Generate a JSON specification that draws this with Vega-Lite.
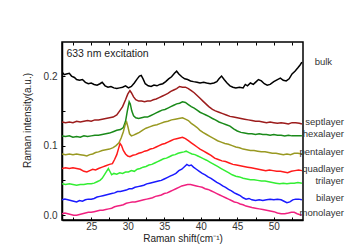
{
  "$schema": "https://vega.github.io/schema/vega-lite/v6.json",
  "width": 241,
  "height": 178,
  "autosize": "none",
  "padding": {"left": 62, "top": 42, "right": 56, "bottom": 29},
  "config": {
    "view": {"stroke": "#000", "strokeWidth": 1.5},
    "axis": {"domainColor": "#000", "domainWidth": 1.5, "tickColor": "#000", "tickWidth": 1, "grid": false,
      "labelColor": "#333", "labelFont": "Liberation Sans", "labelFontSize": 10,
      "titleFont": "Liberation Sans", "titleFontSize": 10, "titleFontWeight": "normal", "titleColor": "#222"},
    "text": {"font": "Liberation Sans"}
  },
  "data": {"values": [
    {"s":"bulk","x":21.0,"y":0.206},{"s":"bulk","x":21.3,"y":0.202},{"s":"bulk","x":21.6,"y":0.203},{"s":"bulk","x":22.0,"y":0.204},{"s":"bulk","x":22.3,"y":0.200},{"s":"bulk","x":22.7,"y":0.198},{"s":"bulk","x":23.0,"y":0.195},{"s":"bulk","x":23.4,"y":0.194},{"s":"bulk","x":23.8,"y":0.195},{"s":"bulk","x":24.2,"y":0.191},{"s":"bulk","x":24.6,"y":0.189},{"s":"bulk","x":25.0,"y":0.190},{"s":"bulk","x":25.4,"y":0.188},{"s":"bulk","x":25.8,"y":0.187},{"s":"bulk","x":26.2,"y":0.189},{"s":"bulk","x":26.5,"y":0.191},{"s":"bulk","x":26.9,"y":0.186},{"s":"bulk","x":27.3,"y":0.184},{"s":"bulk","x":27.7,"y":0.185},{"s":"bulk","x":28.1,"y":0.183},{"s":"bulk","x":28.5,"y":0.182},{"s":"bulk","x":28.9,"y":0.183},{"s":"bulk","x":29.3,"y":0.184},{"s":"bulk","x":29.7,"y":0.186},{"s":"bulk","x":30.1,"y":0.183},{"s":"bulk","x":30.5,"y":0.185},{"s":"bulk","x":30.9,"y":0.190},{"s":"bulk","x":31.3,"y":0.196},{"s":"bulk","x":31.6,"y":0.200},{"s":"bulk","x":31.85,"y":0.201},{"s":"bulk","x":32.1,"y":0.196},{"s":"bulk","x":32.4,"y":0.189},{"s":"bulk","x":32.8,"y":0.186},{"s":"bulk","x":33.2,"y":0.185},{"s":"bulk","x":33.6,"y":0.187},{"s":"bulk","x":34.0,"y":0.186},{"s":"bulk","x":34.4,"y":0.188},{"s":"bulk","x":34.8,"y":0.189},{"s":"bulk","x":35.2,"y":0.192},{"s":"bulk","x":35.6,"y":0.196},{"s":"bulk","x":36.0,"y":0.199},{"s":"bulk","x":36.4,"y":0.204},{"s":"bulk","x":36.7,"y":0.207},{"s":"bulk","x":37.0,"y":0.203},{"s":"bulk","x":37.4,"y":0.199},{"s":"bulk","x":37.8,"y":0.196},{"s":"bulk","x":38.2,"y":0.195},{"s":"bulk","x":38.6,"y":0.193},{"s":"bulk","x":39.0,"y":0.192},{"s":"bulk","x":39.5,"y":0.191},{"s":"bulk","x":39.9,"y":0.190},{"s":"bulk","x":40.4,"y":0.191},{"s":"bulk","x":40.8,"y":0.190},{"s":"bulk","x":41.3,"y":0.189},{"s":"bulk","x":41.8,"y":0.190},{"s":"bulk","x":42.2,"y":0.192},{"s":"bulk","x":42.5,"y":0.196},{"s":"bulk","x":42.85,"y":0.200},{"s":"bulk","x":43.2,"y":0.195},{"s":"bulk","x":43.6,"y":0.190},{"s":"bulk","x":44.0,"y":0.186},{"s":"bulk","x":44.4,"y":0.184},{"s":"bulk","x":44.8,"y":0.183},{"s":"bulk","x":45.3,"y":0.184},{"s":"bulk","x":45.8,"y":0.183},{"s":"bulk","x":46.1,"y":0.188},{"s":"bulk","x":46.4,"y":0.186},{"s":"bulk","x":46.8,"y":0.190},{"s":"bulk","x":47.2,"y":0.188},{"s":"bulk","x":47.6,"y":0.192},{"s":"bulk","x":47.9,"y":0.195},{"s":"bulk","x":48.3,"y":0.193},{"s":"bulk","x":48.7,"y":0.189},{"s":"bulk","x":49.1,"y":0.187},{"s":"bulk","x":49.5,"y":0.188},{"s":"bulk","x":50.0,"y":0.192},{"s":"bulk","x":50.5,"y":0.195},{"s":"bulk","x":50.9,"y":0.197},{"s":"bulk","x":51.3,"y":0.194},{"s":"bulk","x":51.7,"y":0.193},{"s":"bulk","x":52.1,"y":0.196},{"s":"bulk","x":52.5,"y":0.203},{"s":"bulk","x":52.9,"y":0.207},{"s":"bulk","x":53.3,"y":0.212},{"s":"bulk","x":53.6,"y":0.216},{"s":"bulk","x":53.85,"y":0.220},

    {"s":"septlayer","x":21.0,"y":0.134},{"s":"septlayer","x":21.5,"y":0.133},{"s":"septlayer","x":22.0,"y":0.134},{"s":"septlayer","x":22.5,"y":0.133},{"s":"septlayer","x":23.0,"y":0.135},{"s":"septlayer","x":23.5,"y":0.134},{"s":"septlayer","x":24.0,"y":0.135},{"s":"septlayer","x":24.5,"y":0.136},{"s":"septlayer","x":25.0,"y":0.135},{"s":"septlayer","x":25.5,"y":0.137},{"s":"septlayer","x":26.0,"y":0.137},{"s":"septlayer","x":26.5,"y":0.138},{"s":"septlayer","x":27.0,"y":0.139},{"s":"septlayer","x":27.5,"y":0.140},{"s":"septlayer","x":28.0,"y":0.141},{"s":"septlayer","x":28.5,"y":0.144},{"s":"septlayer","x":28.9,"y":0.150},{"s":"septlayer","x":29.3,"y":0.156},{"s":"septlayer","x":29.7,"y":0.166},{"s":"septlayer","x":30.0,"y":0.174},{"s":"septlayer","x":30.3,"y":0.179},{"s":"septlayer","x":30.5,"y":0.176},{"s":"septlayer","x":30.8,"y":0.170},{"s":"septlayer","x":31.1,"y":0.166},{"s":"septlayer","x":31.5,"y":0.164},{"s":"septlayer","x":31.9,"y":0.164},{"s":"septlayer","x":32.3,"y":0.163},{"s":"septlayer","x":32.7,"y":0.164},{"s":"septlayer","x":33.1,"y":0.164},{"s":"septlayer","x":33.5,"y":0.166},{"s":"septlayer","x":33.9,"y":0.167},{"s":"septlayer","x":34.3,"y":0.169},{"s":"septlayer","x":34.7,"y":0.171},{"s":"septlayer","x":35.1,"y":0.173},{"s":"septlayer","x":35.5,"y":0.175},{"s":"septlayer","x":35.9,"y":0.178},{"s":"septlayer","x":36.3,"y":0.180},{"s":"septlayer","x":36.7,"y":0.182},{"s":"septlayer","x":37.1,"y":0.185},{"s":"septlayer","x":37.5,"y":0.184},{"s":"septlayer","x":37.9,"y":0.184},{"s":"septlayer","x":38.3,"y":0.182},{"s":"septlayer","x":38.7,"y":0.179},{"s":"septlayer","x":39.1,"y":0.176},{"s":"septlayer","x":39.5,"y":0.172},{"s":"septlayer","x":39.9,"y":0.168},{"s":"septlayer","x":40.3,"y":0.164},{"s":"septlayer","x":40.7,"y":0.160},{"s":"septlayer","x":41.1,"y":0.156},{"s":"septlayer","x":41.6,"y":0.152},{"s":"septlayer","x":42.0,"y":0.150},{"s":"septlayer","x":42.5,"y":0.148},{"s":"septlayer","x":43.0,"y":0.146},{"s":"septlayer","x":43.5,"y":0.144},{"s":"septlayer","x":44.0,"y":0.142},{"s":"septlayer","x":44.5,"y":0.141},{"s":"septlayer","x":45.0,"y":0.140},{"s":"septlayer","x":45.5,"y":0.139},{"s":"septlayer","x":46.0,"y":0.138},{"s":"septlayer","x":46.5,"y":0.137},{"s":"septlayer","x":47.0,"y":0.136},{"s":"septlayer","x":47.5,"y":0.135},{"s":"septlayer","x":48.0,"y":0.135},{"s":"septlayer","x":48.5,"y":0.134},{"s":"septlayer","x":49.0,"y":0.133},{"s":"septlayer","x":49.5,"y":0.134},{"s":"septlayer","x":50.0,"y":0.133},{"s":"septlayer","x":50.5,"y":0.132},{"s":"septlayer","x":51.0,"y":0.133},{"s":"septlayer","x":51.5,"y":0.132},{"s":"septlayer","x":52.0,"y":0.131},{"s":"septlayer","x":52.5,"y":0.133},{"s":"septlayer","x":53.0,"y":0.133},{"s":"septlayer","x":53.5,"y":0.132},{"s":"septlayer","x":53.85,"y":0.131},

    {"s":"hexalayer","x":21.0,"y":0.114},{"s":"hexalayer","x":21.5,"y":0.113},{"s":"hexalayer","x":22.0,"y":0.114},{"s":"hexalayer","x":22.5,"y":0.112},{"s":"hexalayer","x":23.0,"y":0.113},{"s":"hexalayer","x":23.5,"y":0.112},{"s":"hexalayer","x":24.0,"y":0.114},{"s":"hexalayer","x":24.5,"y":0.113},{"s":"hexalayer","x":25.0,"y":0.114},{"s":"hexalayer","x":25.5,"y":0.115},{"s":"hexalayer","x":26.0,"y":0.115},{"s":"hexalayer","x":26.5,"y":0.116},{"s":"hexalayer","x":27.0,"y":0.117},{"s":"hexalayer","x":27.5,"y":0.118},{"s":"hexalayer","x":28.0,"y":0.120},{"s":"hexalayer","x":28.5,"y":0.122},{"s":"hexalayer","x":29.0,"y":0.123},{"s":"hexalayer","x":29.4,"y":0.126},{"s":"hexalayer","x":29.7,"y":0.135},{"s":"hexalayer","x":29.95,"y":0.150},{"s":"hexalayer","x":30.2,"y":0.163},{"s":"hexalayer","x":30.35,"y":0.160},{"s":"hexalayer","x":30.55,"y":0.150},{"s":"hexalayer","x":30.8,"y":0.143},{"s":"hexalayer","x":31.1,"y":0.140},{"s":"hexalayer","x":31.5,"y":0.139},{"s":"hexalayer","x":31.9,"y":0.140},{"s":"hexalayer","x":32.3,"y":0.141},{"s":"hexalayer","x":32.7,"y":0.141},{"s":"hexalayer","x":33.1,"y":0.143},{"s":"hexalayer","x":33.5,"y":0.145},{"s":"hexalayer","x":33.9,"y":0.147},{"s":"hexalayer","x":34.3,"y":0.149},{"s":"hexalayer","x":34.7,"y":0.151},{"s":"hexalayer","x":35.1,"y":0.152},{"s":"hexalayer","x":35.5,"y":0.154},{"s":"hexalayer","x":35.9,"y":0.156},{"s":"hexalayer","x":36.3,"y":0.158},{"s":"hexalayer","x":36.7,"y":0.160},{"s":"hexalayer","x":37.1,"y":0.161},{"s":"hexalayer","x":37.5,"y":0.163},{"s":"hexalayer","x":37.9,"y":0.162},{"s":"hexalayer","x":38.3,"y":0.159},{"s":"hexalayer","x":38.7,"y":0.156},{"s":"hexalayer","x":39.1,"y":0.154},{"s":"hexalayer","x":39.5,"y":0.151},{"s":"hexalayer","x":39.9,"y":0.148},{"s":"hexalayer","x":40.3,"y":0.146},{"s":"hexalayer","x":40.7,"y":0.144},{"s":"hexalayer","x":41.1,"y":0.142},{"s":"hexalayer","x":41.6,"y":0.139},{"s":"hexalayer","x":42.0,"y":0.137},{"s":"hexalayer","x":42.5,"y":0.134},{"s":"hexalayer","x":43.0,"y":0.132},{"s":"hexalayer","x":43.5,"y":0.130},{"s":"hexalayer","x":44.0,"y":0.128},{"s":"hexalayer","x":44.5,"y":0.124},{"s":"hexalayer","x":45.0,"y":0.121},{"s":"hexalayer","x":45.5,"y":0.119},{"s":"hexalayer","x":46.0,"y":0.118},{"s":"hexalayer","x":46.5,"y":0.117},{"s":"hexalayer","x":47.0,"y":0.117},{"s":"hexalayer","x":47.5,"y":0.116},{"s":"hexalayer","x":48.0,"y":0.117},{"s":"hexalayer","x":48.5,"y":0.116},{"s":"hexalayer","x":49.0,"y":0.116},{"s":"hexalayer","x":49.5,"y":0.115},{"s":"hexalayer","x":50.0,"y":0.116},{"s":"hexalayer","x":50.5,"y":0.115},{"s":"hexalayer","x":51.0,"y":0.115},{"s":"hexalayer","x":51.5,"y":0.114},{"s":"hexalayer","x":52.0,"y":0.115},{"s":"hexalayer","x":52.5,"y":0.114},{"s":"hexalayer","x":53.0,"y":0.114},{"s":"hexalayer","x":53.5,"y":0.114},{"s":"hexalayer","x":53.85,"y":0.114},

    {"s":"pentalayer","x":21.0,"y":0.088},{"s":"pentalayer","x":21.5,"y":0.087},{"s":"pentalayer","x":22.0,"y":0.088},{"s":"pentalayer","x":22.5,"y":0.087},{"s":"pentalayer","x":23.0,"y":0.088},{"s":"pentalayer","x":23.5,"y":0.087},{"s":"pentalayer","x":24.0,"y":0.086},{"s":"pentalayer","x":24.4,"y":0.085},{"s":"pentalayer","x":24.8,"y":0.087},{"s":"pentalayer","x":25.2,"y":0.088},{"s":"pentalayer","x":25.6,"y":0.090},{"s":"pentalayer","x":26.0,"y":0.091},{"s":"pentalayer","x":26.5,"y":0.093},{"s":"pentalayer","x":27.0,"y":0.094},{"s":"pentalayer","x":27.5,"y":0.095},{"s":"pentalayer","x":28.0,"y":0.097},{"s":"pentalayer","x":28.4,"y":0.100},{"s":"pentalayer","x":28.8,"y":0.104},{"s":"pentalayer","x":29.1,"y":0.111},{"s":"pentalayer","x":29.4,"y":0.120},{"s":"pentalayer","x":29.65,"y":0.130},{"s":"pentalayer","x":29.85,"y":0.134},{"s":"pentalayer","x":30.05,"y":0.126},{"s":"pentalayer","x":30.25,"y":0.117},{"s":"pentalayer","x":30.5,"y":0.114},{"s":"pentalayer","x":30.8,"y":0.115},{"s":"pentalayer","x":31.2,"y":0.117},{"s":"pentalayer","x":31.6,"y":0.119},{"s":"pentalayer","x":32.0,"y":0.122},{"s":"pentalayer","x":32.5,"y":0.125},{"s":"pentalayer","x":33.0,"y":0.127},{"s":"pentalayer","x":33.5,"y":0.129},{"s":"pentalayer","x":34.0,"y":0.130},{"s":"pentalayer","x":34.5,"y":0.132},{"s":"pentalayer","x":35.0,"y":0.134},{"s":"pentalayer","x":35.5,"y":0.135},{"s":"pentalayer","x":36.0,"y":0.137},{"s":"pentalayer","x":36.5,"y":0.138},{"s":"pentalayer","x":37.0,"y":0.139},{"s":"pentalayer","x":37.5,"y":0.140},{"s":"pentalayer","x":37.9,"y":0.138},{"s":"pentalayer","x":38.3,"y":0.136},{"s":"pentalayer","x":38.7,"y":0.132},{"s":"pentalayer","x":39.1,"y":0.129},{"s":"pentalayer","x":39.5,"y":0.126},{"s":"pentalayer","x":39.9,"y":0.122},{"s":"pentalayer","x":40.3,"y":0.119},{"s":"pentalayer","x":40.8,"y":0.116},{"s":"pentalayer","x":41.3,"y":0.113},{"s":"pentalayer","x":41.8,"y":0.110},{"s":"pentalayer","x":42.3,"y":0.107},{"s":"pentalayer","x":42.8,"y":0.105},{"s":"pentalayer","x":43.3,"y":0.103},{"s":"pentalayer","x":43.8,"y":0.102},{"s":"pentalayer","x":44.3,"y":0.100},{"s":"pentalayer","x":44.8,"y":0.098},{"s":"pentalayer","x":45.3,"y":0.097},{"s":"pentalayer","x":45.8,"y":0.095},{"s":"pentalayer","x":46.3,"y":0.094},{"s":"pentalayer","x":46.8,"y":0.093},{"s":"pentalayer","x":47.3,"y":0.093},{"s":"pentalayer","x":47.8,"y":0.092},{"s":"pentalayer","x":48.3,"y":0.091},{"s":"pentalayer","x":48.8,"y":0.091},{"s":"pentalayer","x":49.3,"y":0.090},{"s":"pentalayer","x":49.8,"y":0.089},{"s":"pentalayer","x":50.3,"y":0.089},{"s":"pentalayer","x":50.8,"y":0.088},{"s":"pentalayer","x":51.3,"y":0.087},{"s":"pentalayer","x":51.8,"y":0.088},{"s":"pentalayer","x":52.3,"y":0.087},{"s":"pentalayer","x":52.8,"y":0.089},{"s":"pentalayer","x":53.3,"y":0.089},{"s":"pentalayer","x":53.85,"y":0.088},

    {"s":"quadlayer","x":21.0,"y":0.067},{"s":"quadlayer","x":21.5,"y":0.068},{"s":"quadlayer","x":22.0,"y":0.067},{"s":"quadlayer","x":22.5,"y":0.068},{"s":"quadlayer","x":23.0,"y":0.067},{"s":"quadlayer","x":23.5,"y":0.066},{"s":"quadlayer","x":24.0,"y":0.063},{"s":"quadlayer","x":24.4,"y":0.062},{"s":"quadlayer","x":24.8,"y":0.064},{"s":"quadlayer","x":25.2,"y":0.066},{"s":"quadlayer","x":25.6,"y":0.065},{"s":"quadlayer","x":26.0,"y":0.067},{"s":"quadlayer","x":26.5,"y":0.069},{"s":"quadlayer","x":27.0,"y":0.071},{"s":"quadlayer","x":27.5,"y":0.073},{"s":"quadlayer","x":27.9,"y":0.074},{"s":"quadlayer","x":28.2,"y":0.080},{"s":"quadlayer","x":28.5,"y":0.087},{"s":"quadlayer","x":28.75,"y":0.096},{"s":"quadlayer","x":28.95,"y":0.103},{"s":"quadlayer","x":29.15,"y":0.100},{"s":"quadlayer","x":29.4,"y":0.093},{"s":"quadlayer","x":29.7,"y":0.088},{"s":"quadlayer","x":30.0,"y":0.085},{"s":"quadlayer","x":30.3,"y":0.084},{"s":"quadlayer","x":30.7,"y":0.086},{"s":"quadlayer","x":31.1,"y":0.087},{"s":"quadlayer","x":31.5,"y":0.089},{"s":"quadlayer","x":31.9,"y":0.090},{"s":"quadlayer","x":32.3,"y":0.092},{"s":"quadlayer","x":32.7,"y":0.093},{"s":"quadlayer","x":33.1,"y":0.095},{"s":"quadlayer","x":33.5,"y":0.096},{"s":"quadlayer","x":33.9,"y":0.098},{"s":"quadlayer","x":34.3,"y":0.100},{"s":"quadlayer","x":34.7,"y":0.102},{"s":"quadlayer","x":35.1,"y":0.103},{"s":"quadlayer","x":35.5,"y":0.105},{"s":"quadlayer","x":35.9,"y":0.107},{"s":"quadlayer","x":36.3,"y":0.109},{"s":"quadlayer","x":36.7,"y":0.110},{"s":"quadlayer","x":37.1,"y":0.111},{"s":"quadlayer","x":37.5,"y":0.112},{"s":"quadlayer","x":37.9,"y":0.110},{"s":"quadlayer","x":38.3,"y":0.107},{"s":"quadlayer","x":38.7,"y":0.104},{"s":"quadlayer","x":39.1,"y":0.101},{"s":"quadlayer","x":39.5,"y":0.098},{"s":"quadlayer","x":39.9,"y":0.095},{"s":"quadlayer","x":40.4,"y":0.092},{"s":"quadlayer","x":40.9,"y":0.089},{"s":"quadlayer","x":41.4,"y":0.086},{"s":"quadlayer","x":41.9,"y":0.082},{"s":"quadlayer","x":42.4,"y":0.080},{"s":"quadlayer","x":42.9,"y":0.078},{"s":"quadlayer","x":43.4,"y":0.077},{"s":"quadlayer","x":43.9,"y":0.075},{"s":"quadlayer","x":44.4,"y":0.073},{"s":"quadlayer","x":44.9,"y":0.072},{"s":"quadlayer","x":45.4,"y":0.071},{"s":"quadlayer","x":45.9,"y":0.070},{"s":"quadlayer","x":46.4,"y":0.069},{"s":"quadlayer","x":46.9,"y":0.068},{"s":"quadlayer","x":47.4,"y":0.067},{"s":"quadlayer","x":47.9,"y":0.066},{"s":"quadlayer","x":48.4,"y":0.065},{"s":"quadlayer","x":48.9,"y":0.064},{"s":"quadlayer","x":49.4,"y":0.065},{"s":"quadlayer","x":49.9,"y":0.064},{"s":"quadlayer","x":50.4,"y":0.063},{"s":"quadlayer","x":50.9,"y":0.063},{"s":"quadlayer","x":51.4,"y":0.062},{"s":"quadlayer","x":51.9,"y":0.061},{"s":"quadlayer","x":52.4,"y":0.063},{"s":"quadlayer","x":52.9,"y":0.064},{"s":"quadlayer","x":53.4,"y":0.065},{"s":"quadlayer","x":53.85,"y":0.064},

    {"s":"trilayer","x":21.0,"y":0.045},{"s":"trilayer","x":21.5,"y":0.044},{"s":"trilayer","x":22.0,"y":0.045},{"s":"trilayer","x":22.5,"y":0.044},{"s":"trilayer","x":23.0,"y":0.043},{"s":"trilayer","x":23.5,"y":0.044},{"s":"trilayer","x":24.0,"y":0.044},{"s":"trilayer","x":24.5,"y":0.045},{"s":"trilayer","x":25.0,"y":0.045},{"s":"trilayer","x":25.4,"y":0.046},{"s":"trilayer","x":25.8,"y":0.048},{"s":"trilayer","x":26.2,"y":0.050},{"s":"trilayer","x":26.5,"y":0.053},{"s":"trilayer","x":26.8,"y":0.058},{"s":"trilayer","x":27.1,"y":0.063},{"s":"trilayer","x":27.35,"y":0.067},{"s":"trilayer","x":27.6,"y":0.062},{"s":"trilayer","x":27.8,"y":0.058},{"s":"trilayer","x":28.1,"y":0.060},{"s":"trilayer","x":28.5,"y":0.059},{"s":"trilayer","x":28.9,"y":0.061},{"s":"trilayer","x":29.3,"y":0.060},{"s":"trilayer","x":29.7,"y":0.062},{"s":"trilayer","x":30.1,"y":0.062},{"s":"trilayer","x":30.5,"y":0.064},{"s":"trilayer","x":30.9,"y":0.063},{"s":"trilayer","x":31.3,"y":0.066},{"s":"trilayer","x":31.7,"y":0.067},{"s":"trilayer","x":32.1,"y":0.069},{"s":"trilayer","x":32.5,"y":0.070},{"s":"trilayer","x":32.9,"y":0.072},{"s":"trilayer","x":33.3,"y":0.073},{"s":"trilayer","x":33.7,"y":0.075},{"s":"trilayer","x":34.1,"y":0.077},{"s":"trilayer","x":34.5,"y":0.079},{"s":"trilayer","x":34.9,"y":0.081},{"s":"trilayer","x":35.3,"y":0.082},{"s":"trilayer","x":35.7,"y":0.084},{"s":"trilayer","x":36.1,"y":0.086},{"s":"trilayer","x":36.5,"y":0.087},{"s":"trilayer","x":36.9,"y":0.089},{"s":"trilayer","x":37.3,"y":0.090},{"s":"trilayer","x":37.7,"y":0.091},{"s":"trilayer","x":38.0,"y":0.092},{"s":"trilayer","x":38.4,"y":0.090},{"s":"trilayer","x":38.8,"y":0.088},{"s":"trilayer","x":39.2,"y":0.087},{"s":"trilayer","x":39.6,"y":0.085},{"s":"trilayer","x":40.0,"y":0.083},{"s":"trilayer","x":40.4,"y":0.081},{"s":"trilayer","x":40.8,"y":0.079},{"s":"trilayer","x":41.3,"y":0.076},{"s":"trilayer","x":41.8,"y":0.073},{"s":"trilayer","x":42.3,"y":0.070},{"s":"trilayer","x":42.8,"y":0.067},{"s":"trilayer","x":43.3,"y":0.064},{"s":"trilayer","x":43.8,"y":0.061},{"s":"trilayer","x":44.3,"y":0.058},{"s":"trilayer","x":44.8,"y":0.056},{"s":"trilayer","x":45.3,"y":0.055},{"s":"trilayer","x":45.8,"y":0.053},{"s":"trilayer","x":46.3,"y":0.052},{"s":"trilayer","x":46.8,"y":0.051},{"s":"trilayer","x":47.3,"y":0.051},{"s":"trilayer","x":47.8,"y":0.050},{"s":"trilayer","x":48.3,"y":0.049},{"s":"trilayer","x":48.8,"y":0.049},{"s":"trilayer","x":49.3,"y":0.048},{"s":"trilayer","x":49.8,"y":0.047},{"s":"trilayer","x":50.3,"y":0.046},{"s":"trilayer","x":50.8,"y":0.045},{"s":"trilayer","x":51.3,"y":0.046},{"s":"trilayer","x":51.8,"y":0.045},{"s":"trilayer","x":52.3,"y":0.046},{"s":"trilayer","x":52.8,"y":0.046},{"s":"trilayer","x":53.3,"y":0.047},{"s":"trilayer","x":53.85,"y":0.046},

    {"s":"bilayer","x":21.0,"y":0.022},{"s":"bilayer","x":21.4,"y":0.023},{"s":"bilayer","x":21.8,"y":0.022},{"s":"bilayer","x":22.2,"y":0.021},{"s":"bilayer","x":22.6,"y":0.020},{"s":"bilayer","x":23.0,"y":0.019},{"s":"bilayer","x":23.4,"y":0.021},{"s":"bilayer","x":23.8,"y":0.020},{"s":"bilayer","x":24.2,"y":0.022},{"s":"bilayer","x":24.6,"y":0.023},{"s":"bilayer","x":25.0,"y":0.023},{"s":"bilayer","x":25.4,"y":0.024},{"s":"bilayer","x":25.8,"y":0.026},{"s":"bilayer","x":26.2,"y":0.027},{"s":"bilayer","x":26.6,"y":0.028},{"s":"bilayer","x":27.0,"y":0.029},{"s":"bilayer","x":27.4,"y":0.030},{"s":"bilayer","x":27.8,"y":0.031},{"s":"bilayer","x":28.2,"y":0.032},{"s":"bilayer","x":28.6,"y":0.034},{"s":"bilayer","x":29.0,"y":0.034},{"s":"bilayer","x":29.4,"y":0.035},{"s":"bilayer","x":29.8,"y":0.036},{"s":"bilayer","x":30.2,"y":0.038},{"s":"bilayer","x":30.6,"y":0.038},{"s":"bilayer","x":31.0,"y":0.040},{"s":"bilayer","x":31.4,"y":0.041},{"s":"bilayer","x":31.8,"y":0.042},{"s":"bilayer","x":32.2,"y":0.043},{"s":"bilayer","x":32.6,"y":0.045},{"s":"bilayer","x":33.0,"y":0.046},{"s":"bilayer","x":33.4,"y":0.047},{"s":"bilayer","x":33.8,"y":0.048},{"s":"bilayer","x":34.2,"y":0.049},{"s":"bilayer","x":34.6,"y":0.050},{"s":"bilayer","x":35.0,"y":0.052},{"s":"bilayer","x":35.4,"y":0.054},{"s":"bilayer","x":35.8,"y":0.056},{"s":"bilayer","x":36.2,"y":0.058},{"s":"bilayer","x":36.6,"y":0.060},{"s":"bilayer","x":37.0,"y":0.064},{"s":"bilayer","x":37.4,"y":0.066},{"s":"bilayer","x":37.8,"y":0.070},{"s":"bilayer","x":38.1,"y":0.073},{"s":"bilayer","x":38.4,"y":0.071},{"s":"bilayer","x":38.7,"y":0.072},{"s":"bilayer","x":39.0,"y":0.069},{"s":"bilayer","x":39.4,"y":0.066},{"s":"bilayer","x":39.8,"y":0.063},{"s":"bilayer","x":40.2,"y":0.060},{"s":"bilayer","x":40.6,"y":0.058},{"s":"bilayer","x":41.0,"y":0.055},{"s":"bilayer","x":41.4,"y":0.053},{"s":"bilayer","x":41.8,"y":0.050},{"s":"bilayer","x":42.2,"y":0.047},{"s":"bilayer","x":42.6,"y":0.045},{"s":"bilayer","x":43.0,"y":0.042},{"s":"bilayer","x":43.4,"y":0.040},{"s":"bilayer","x":43.8,"y":0.037},{"s":"bilayer","x":44.2,"y":0.035},{"s":"bilayer","x":44.6,"y":0.032},{"s":"bilayer","x":45.0,"y":0.030},{"s":"bilayer","x":45.4,"y":0.028},{"s":"bilayer","x":45.8,"y":0.025},{"s":"bilayer","x":46.2,"y":0.023},{"s":"bilayer","x":46.6,"y":0.024},{"s":"bilayer","x":47.0,"y":0.022},{"s":"bilayer","x":47.5,"y":0.021},{"s":"bilayer","x":48.0,"y":0.022},{"s":"bilayer","x":48.5,"y":0.021},{"s":"bilayer","x":49.0,"y":0.022},{"s":"bilayer","x":49.5,"y":0.023},{"s":"bilayer","x":50.0,"y":0.022},{"s":"bilayer","x":50.5,"y":0.023},{"s":"bilayer","x":51.0,"y":0.022},{"s":"bilayer","x":51.4,"y":0.020},{"s":"bilayer","x":51.8,"y":0.018},{"s":"bilayer","x":52.2,"y":0.019},{"s":"bilayer","x":52.6,"y":0.022},{"s":"bilayer","x":53.0,"y":0.023},{"s":"bilayer","x":53.4,"y":0.023},{"s":"bilayer","x":53.85,"y":0.022},

    {"s":"monolayer","x":21.0,"y":0.002},{"s":"monolayer","x":21.4,"y":0.003},{"s":"monolayer","x":21.8,"y":0.002},{"s":"monolayer","x":22.2,"y":0.001},{"s":"monolayer","x":22.6,"y":0.000},{"s":"monolayer","x":23.0,"y":0.000},{"s":"monolayer","x":23.4,"y":0.001},{"s":"monolayer","x":23.8,"y":0.002},{"s":"monolayer","x":24.2,"y":0.003},{"s":"monolayer","x":24.6,"y":0.004},{"s":"monolayer","x":25.0,"y":0.004},{"s":"monolayer","x":25.4,"y":0.005},{"s":"monolayer","x":25.8,"y":0.006},{"s":"monolayer","x":26.2,"y":0.007},{"s":"monolayer","x":26.6,"y":0.007},{"s":"monolayer","x":27.0,"y":0.008},{"s":"monolayer","x":27.4,"y":0.009},{"s":"monolayer","x":27.8,"y":0.010},{"s":"monolayer","x":28.2,"y":0.012},{"s":"monolayer","x":28.6,"y":0.013},{"s":"monolayer","x":29.0,"y":0.014},{"s":"monolayer","x":29.4,"y":0.015},{"s":"monolayer","x":29.8,"y":0.017},{"s":"monolayer","x":30.2,"y":0.018},{"s":"monolayer","x":30.6,"y":0.019},{"s":"monolayer","x":31.0,"y":0.019},{"s":"monolayer","x":31.4,"y":0.020},{"s":"monolayer","x":31.8,"y":0.021},{"s":"monolayer","x":32.2,"y":0.022},{"s":"monolayer","x":32.6,"y":0.023},{"s":"monolayer","x":33.0,"y":0.024},{"s":"monolayer","x":33.4,"y":0.025},{"s":"monolayer","x":33.8,"y":0.027},{"s":"monolayer","x":34.2,"y":0.028},{"s":"monolayer","x":34.6,"y":0.029},{"s":"monolayer","x":35.0,"y":0.031},{"s":"monolayer","x":35.4,"y":0.032},{"s":"monolayer","x":35.8,"y":0.034},{"s":"monolayer","x":36.2,"y":0.036},{"s":"monolayer","x":36.6,"y":0.038},{"s":"monolayer","x":37.0,"y":0.040},{"s":"monolayer","x":37.4,"y":0.042},{"s":"monolayer","x":37.8,"y":0.043},{"s":"monolayer","x":38.2,"y":0.044},{"s":"monolayer","x":38.6,"y":0.044},{"s":"monolayer","x":39.0,"y":0.043},{"s":"monolayer","x":39.4,"y":0.042},{"s":"monolayer","x":39.8,"y":0.041},{"s":"monolayer","x":40.2,"y":0.040},{"s":"monolayer","x":40.6,"y":0.038},{"s":"monolayer","x":41.0,"y":0.037},{"s":"monolayer","x":41.4,"y":0.035},{"s":"monolayer","x":41.8,"y":0.033},{"s":"monolayer","x":42.2,"y":0.031},{"s":"monolayer","x":42.6,"y":0.029},{"s":"monolayer","x":43.0,"y":0.027},{"s":"monolayer","x":43.4,"y":0.025},{"s":"monolayer","x":43.8,"y":0.023},{"s":"monolayer","x":44.2,"y":0.021},{"s":"monolayer","x":44.6,"y":0.019},{"s":"monolayer","x":45.0,"y":0.018},{"s":"monolayer","x":45.4,"y":0.016},{"s":"monolayer","x":45.8,"y":0.015},{"s":"monolayer","x":46.2,"y":0.013},{"s":"monolayer","x":46.6,"y":0.012},{"s":"monolayer","x":47.0,"y":0.011},{"s":"monolayer","x":47.5,"y":0.010},{"s":"monolayer","x":48.0,"y":0.009},{"s":"monolayer","x":48.5,"y":0.008},{"s":"monolayer","x":49.0,"y":0.007},{"s":"monolayer","x":49.5,"y":0.006},{"s":"monolayer","x":50.0,"y":0.005},{"s":"monolayer","x":50.5,"y":0.003},{"s":"monolayer","x":51.0,"y":0.002},{"s":"monolayer","x":51.5,"y":0.002},{"s":"monolayer","x":52.0,"y":0.003},{"s":"monolayer","x":52.4,"y":0.004},{"s":"monolayer","x":52.8,"y":0.004},{"s":"monolayer","x":53.2,"y":0.002},{"s":"monolayer","x":53.5,"y":0.001},{"s":"monolayer","x":53.85,"y":0.000}
  ]},
  "resolve": {"axis": {"x": "independent"}},
  "layer": [
    {
      "mark": {"type": "line", "strokeWidth": 1.5, "clip": true},
      "encoding": {
        "x": {"field": "x", "type": "quantitative", "scale": {"domain": [21, 54], "nice": false, "zero": false},
          "axis": {"title": "Raman shift(cm⁻¹)", "values": [22.5,25,27.5,30,32.5,35,37.5,40,42.5,45,47.5,50,52.5],
            "labelExpr": "datum.value % 5 == 0 ? datum.label : ''", "tickSize": -3, "labelPadding": 4, "titlePadding": 2}},
        "y": {"field": "y", "type": "quantitative", "scale": {"domain": [-0.007, 0.249], "nice": false, "zero": false},
          "axis": {"title": "Raman intensity(a.u.)", "values": [0, 0.05, 0.1, 0.15, 0.2],
            "labelExpr": "round(datum.value*20) % 2 == 0 ? format(datum.value, '.1f') : ''", "tickSize": -3, "labelPadding": 8,
            "titleX": -30, "titleY": 78}},
        "color": {"field": "s", "type": "nominal", "legend": null,
          "scale": {"domain": ["bulk","septlayer","hexalayer","pentalayer","quadlayer","trilayer","bilayer","monolayer"],
            "range": ["#000000","#9C1C1C","#1A8A1A","#999922","#FF1A1A","#33EE33","#1A1AFF","#F0207F"]}},
        "detail": {"field": "s"}
      }
    },
    {
      "mark": {"type": "rule", "opacity": 0},
      "encoding": {
        "x": {"field": "x", "type": "quantitative",
          "axis": {"orient": "top", "title": null, "labels": false, "domain": false, "values": [22.5,25,27.5,30,32.5,35,37.5,40,42.5,45,47.5,50,52.5], "tickSize": -3}}
      }
    },
    {
      "transform": [
        {"window": [{"op": "rank", "as": "r"}], "groupby": ["s"], "sort": [{"field": "x", "order": "descending"}]},
        {"filter": "datum.r == 1 && datum.s != 'bulk'"}
      ],
      "mark": {"type": "text", "align": "right", "baseline": "middle", "dy": -2, "fontSize": 9.5, "color": "#333"},
      "encoding": {
        "x": {"datum": 59.6, "axis": null},
        "y": {"field": "y", "type": "quantitative"},
        "text": {"field": "s"}
      }
    },
    {
      "transform": [
        {"window": [{"op": "rank", "as": "r"}], "groupby": ["s"], "sort": [{"field": "x", "order": "descending"}]},
        {"filter": "datum.r == 1 && datum.s == 'bulk'"}
      ],
      "mark": {"type": "text", "align": "left", "baseline": "middle", "dy": 0, "fontSize": 9.5, "color": "#333"},
      "encoding": {
        "x": {"datum": 55.6, "axis": null},
        "y": {"field": "y", "type": "quantitative"},
        "text": {"field": "s"}
      }
    },
    {
      "data": {"values": [{"note": "633 nm excitation"}]},
      "mark": {"type": "text", "align": "left", "baseline": "middle", "fontSize": 10.5, "color": "#222"},
      "encoding": {
        "x": {"datum": 21.6, "axis": null},
        "y": {"datum": 0.232},
        "text": {"field": "note"}
      }
    }
  ]
}
